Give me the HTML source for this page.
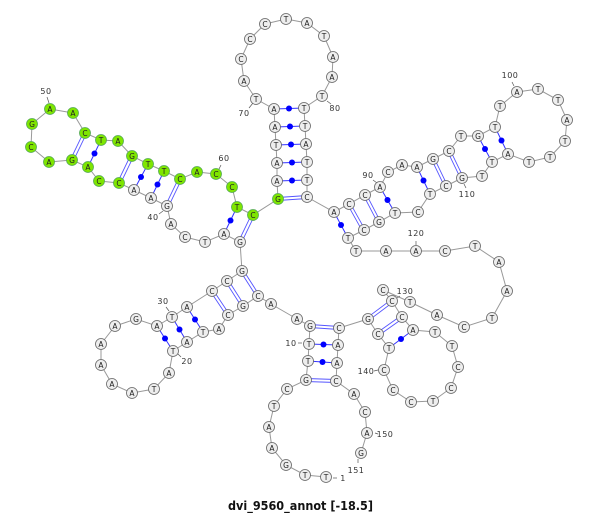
<!DOCTYPE html>
<html><head><meta charset="utf-8"><style>
html,body{margin:0;padding:0;background:#fff}
svg{display:block}
.n circle{fill:#eee;stroke:#666;stroke-width:.8}
.n circle.g{fill:#7fe600;stroke:#5a5}
.n text{font:7.5px "DejaVu Sans",sans-serif;fill:#222;text-anchor:middle}
.l text{font:8px "DejaVu Sans",sans-serif;fill:#333;text-anchor:middle;letter-spacing:.5px}
.l line{stroke:#555;stroke-width:.7}
.s line{stroke:#33f;stroke-width:1}
.d line{stroke:#55f;stroke-width:.9}
.b circle{fill:#00f}
</style></head><body>
<svg width="600" height="514" viewBox="0 0 600 514" xmlns="http://www.w3.org/2000/svg">
<polyline fill="none" stroke="#999" stroke-width="1" points="326,477 305,475 286,465 272,448 269,427 274,406 287,389 306,380 308,361 309,344 310,326 297,319 271,304 258,296 243,306 228,315 219,329 203,332 187,342 173,351 169,373 154,389 132,393 112,384 101,365 101,344 115,326 136,319 157,326 172,317 187,307 212,291 227,281 242,271 240,242 224,234 205,242 185,237 171,224 167,206 151,198 134,190 119,183 99,181 88,167 72,160 49,162 31,147 32,124 50,109 73,113 85,133 101,140 118,141 132,156 148,164 164,171 180,179 197,172 216,174 232,187 237,207 253,215 278,199 277,181 277,163 276,145 275,127 274,109 256,99 244,81 241,59 250,39 265,24 286,19 307,23 324,36 333,57 332,77 322,96 304,108 305,126 306,144 307,162 307,180 307,197 334,212 349,204 365,195 380,187 388,172 402,165 417,167 433,159 449,151 461,136 478,136 495,127 500,106 517,92 538,89 558,100 567,120 565,141 550,157 529,162 508,154 492,162 482,176 462,178 446,186 430,194 418,212 395,213 379,222 364,230 348,238 356,251 386,251 416,251 445,251 475,246 499,262 507,291 492,318 464,327 437,315 410,302 383,290 392,301 402,317 413,330 435,332 452,346 458,367 451,388 433,401 411,402 393,390 384,370 389,348 378,334 368,319 339,328 338,345 337,363 336,381 354,394 365,412 367,433 361,453"/>
<g class="s">
<line x1="308" y1="361" x2="337" y2="363"/><line x1="309" y1="344" x2="338" y2="345"/>
<line x1="203" y1="332" x2="187" y2="307"/><line x1="187" y1="342" x2="172" y2="317"/><line x1="173" y1="351" x2="157" y2="326"/>
<line x1="237" y1="207" x2="224" y2="234"/><line x1="164" y1="171" x2="151" y2="198"/><line x1="148" y1="164" x2="134" y2="190"/><line x1="101" y1="140" x2="88" y2="167"/>
<line x1="277" y1="181" x2="307" y2="180"/><line x1="277" y1="163" x2="307" y2="162"/><line x1="276" y1="145" x2="306" y2="144"/><line x1="275" y1="127" x2="305" y2="126"/><line x1="274" y1="109" x2="304" y2="108"/>
<line x1="334" y1="212" x2="348" y2="238"/><line x1="380" y1="187" x2="395" y2="213"/><line x1="417" y1="167" x2="430" y2="194"/><line x1="478" y1="136" x2="492" y2="162"/><line x1="495" y1="127" x2="508" y2="154"/>
<line x1="413" y1="330" x2="389" y2="348"/>
</g>
<g class="d">
<line x1="306" y1="378.5" x2="336" y2="379.5"/><line x1="306" y1="381.5" x2="336" y2="382.5"/>
<line x1="310" y1="324.5" x2="339" y2="326.5"/><line x1="310" y1="327.5" x2="339" y2="329.5"/>
<line x1="259.3" y1="295.2" x2="243.3" y2="270.2"/><line x1="256.7" y1="296.8" x2="240.7" y2="271.8"/>
<line x1="244.3" y1="305.2" x2="228.3" y2="280.2"/><line x1="241.7" y1="306.8" x2="225.7" y2="281.8"/>
<line x1="229.3" y1="314.2" x2="213.3" y2="290.2"/><line x1="226.7" y1="315.8" x2="210.7" y2="291.8"/>
<line x1="254.4" y1="215.7" x2="241.4" y2="242.7"/><line x1="251.6" y1="214.3" x2="238.6" y2="241.3"/>
<line x1="181.4" y1="179.7" x2="168.4" y2="206.7"/><line x1="178.6" y1="178.3" x2="165.6" y2="205.3"/>
<line x1="133.4" y1="156.7" x2="120.4" y2="183.7"/><line x1="130.6" y1="155.3" x2="117.6" y2="182.3"/>
<line x1="86.4" y1="133.7" x2="73.4" y2="160.7"/><line x1="83.6" y1="132.3" x2="70.6" y2="159.3"/>
<line x1="278" y1="197.5" x2="307" y2="195.5"/><line x1="278" y1="200.5" x2="307" y2="198.5"/>
<line x1="350.3" y1="203.3" x2="365.3" y2="230.3"/><line x1="347.7" y1="204.7" x2="362.7" y2="231.7"/>
<line x1="366.3" y1="194.3" x2="380.3" y2="221.3"/><line x1="363.7" y1="195.7" x2="377.7" y2="222.7"/>
<line x1="434.3" y1="158.3" x2="447.3" y2="185.3"/><line x1="431.7" y1="159.7" x2="444.7" y2="186.7"/>
<line x1="450.3" y1="150.3" x2="463.3" y2="177.3"/><line x1="447.7" y1="151.7" x2="460.7" y2="178.7"/>
<line x1="393" y1="302.2" x2="369" y2="320.2"/><line x1="391" y1="299.8" x2="367" y2="317.8"/>
<line x1="403" y1="318.2" x2="379" y2="335.2"/><line x1="401" y1="315.8" x2="377" y2="332.8"/>
</g>
<g class="b">
<circle cx="322.5" cy="362" r="3"/><circle cx="323.5" cy="344.5" r="3"/>
<circle cx="195" cy="319.5" r="3"/><circle cx="179.5" cy="329.5" r="3"/><circle cx="165" cy="338.5" r="3"/>
<circle cx="230.5" cy="220.5" r="3"/><circle cx="157.5" cy="184.5" r="3"/><circle cx="141" cy="177" r="3"/><circle cx="94.5" cy="153.5" r="3"/>
<circle cx="292" cy="180.5" r="3"/><circle cx="292" cy="162.5" r="3"/><circle cx="291" cy="144.5" r="3"/><circle cx="290" cy="126.5" r="3"/><circle cx="289" cy="108.5" r="3"/>
<circle cx="341" cy="225" r="3"/><circle cx="387.5" cy="200" r="3"/><circle cx="423.5" cy="180.5" r="3"/><circle cx="485" cy="149" r="3"/><circle cx="501.5" cy="140.5" r="3"/>
<circle cx="401" cy="339" r="3"/>
</g>
<g class="l">
<line x1="333" y1="478" x2="337" y2="478"/><line x1="298" y1="343" x2="302" y2="343"/><line x1="178" y1="354" x2="181" y2="357"/><line x1="166" y1="307" x2="169" y2="311"/><line x1="159" y1="214" x2="163" y2="211"/><line x1="47" y1="97" x2="49" y2="103"/><line x1="221" y1="165" x2="219" y2="169"/><line x1="249" y1="108" x2="253" y2="103"/><line x1="327" y1="101" x2="331" y2="104"/><line x1="373" y1="180" x2="377" y2="183"/><line x1="512" y1="82" x2="514" y2="86"/><line x1="464" y1="184" x2="466" y2="188"/><line x1="416" y1="241" x2="416" y2="245"/><line x1="397" y1="298" x2="400" y2="296"/><line x1="374" y1="371" x2="378" y2="370"/><line x1="375" y1="433" x2="378" y2="434"/><line x1="358" y1="463" x2="358" y2="459"/>
<text x="343" y="481">1</text><text x="291" y="346">10</text><text x="187" y="364">20</text><text x="163" y="304">30</text><text x="153" y="220">40</text><text x="46" y="94">50</text><text x="224" y="161">60</text><text x="244" y="116">70</text><text x="335" y="111">80</text><text x="368" y="178">90</text><text x="510" y="78">100</text><text x="467" y="197">110</text><text x="416" y="236">120</text><text x="405" y="294">130</text><text x="366" y="374">140</text><text x="385" y="437">150</text><text x="356" y="473">151</text>
</g>
<g class="n">
<circle cx="326" cy="477" r="5.5"/><text x="326" y="480">T</text>
<circle cx="305" cy="475" r="5.5"/><text x="305" y="478">T</text>
<circle cx="286" cy="465" r="5.5"/><text x="286" y="468">G</text>
<circle cx="272" cy="448" r="5.5"/><text x="272" y="451">A</text>
<circle cx="269" cy="427" r="5.5"/><text x="269" y="430">A</text>
<circle cx="274" cy="406" r="5.5"/><text x="274" y="409">T</text>
<circle cx="287" cy="389" r="5.5"/><text x="287" y="392">C</text>
<circle cx="306" cy="380" r="5.5"/><text x="306" y="383">G</text>
<circle cx="308" cy="361" r="5.5"/><text x="308" y="364">T</text>
<circle cx="309" cy="344" r="5.5"/><text x="309" y="347">T</text>
<circle cx="310" cy="326" r="5.5"/><text x="310" y="329">G</text>
<circle cx="297" cy="319" r="5.5"/><text x="297" y="322">A</text>
<circle cx="271" cy="304" r="5.5"/><text x="271" y="307">A</text>
<circle cx="258" cy="296" r="5.5"/><text x="258" y="299">C</text>
<circle cx="243" cy="306" r="5.5"/><text x="243" y="309">G</text>
<circle cx="228" cy="315" r="5.5"/><text x="228" y="318">C</text>
<circle cx="219" cy="329" r="5.5"/><text x="219" y="332">A</text>
<circle cx="203" cy="332" r="5.5"/><text x="203" y="335">T</text>
<circle cx="187" cy="342" r="5.5"/><text x="187" y="345">A</text>
<circle cx="173" cy="351" r="5.5"/><text x="173" y="354">T</text>
<circle cx="169" cy="373" r="5.5"/><text x="169" y="376">A</text>
<circle cx="154" cy="389" r="5.5"/><text x="154" y="392">T</text>
<circle cx="132" cy="393" r="5.5"/><text x="132" y="396">A</text>
<circle cx="112" cy="384" r="5.5"/><text x="112" y="387">A</text>
<circle cx="101" cy="365" r="5.5"/><text x="101" y="368">A</text>
<circle cx="101" cy="344" r="5.5"/><text x="101" y="347">A</text>
<circle cx="115" cy="326" r="5.5"/><text x="115" y="329">A</text>
<circle cx="136" cy="319" r="5.5"/><text x="136" y="322">G</text>
<circle cx="157" cy="326" r="5.5"/><text x="157" y="329">A</text>
<circle cx="172" cy="317" r="5.5"/><text x="172" y="320">T</text>
<circle cx="187" cy="307" r="5.5"/><text x="187" y="310">A</text>
<circle cx="212" cy="291" r="5.5"/><text x="212" y="294">C</text>
<circle cx="227" cy="281" r="5.5"/><text x="227" y="284">C</text>
<circle cx="242" cy="271" r="5.5"/><text x="242" y="274">G</text>
<circle cx="240" cy="242" r="5.5"/><text x="240" y="245">G</text>
<circle cx="224" cy="234" r="5.5"/><text x="224" y="237">A</text>
<circle cx="205" cy="242" r="5.5"/><text x="205" y="245">T</text>
<circle cx="185" cy="237" r="5.5"/><text x="185" y="240">C</text>
<circle cx="171" cy="224" r="5.5"/><text x="171" y="227">A</text>
<circle cx="167" cy="206" r="5.5"/><text x="167" y="209">G</text>
<circle cx="151" cy="198" r="5.5"/><text x="151" y="201">A</text>
<circle cx="134" cy="190" r="5.5"/><text x="134" y="193">A</text>
<circle class="g" cx="119" cy="183" r="5.5"/><text x="119" y="186">C</text>
<circle class="g" cx="99" cy="181" r="5.5"/><text x="99" y="184">C</text>
<circle class="g" cx="88" cy="167" r="5.5"/><text x="88" y="170">A</text>
<circle class="g" cx="72" cy="160" r="5.5"/><text x="72" y="163">G</text>
<circle class="g" cx="49" cy="162" r="5.5"/><text x="49" y="165">A</text>
<circle class="g" cx="31" cy="147" r="5.5"/><text x="31" y="150">C</text>
<circle class="g" cx="32" cy="124" r="5.5"/><text x="32" y="127">G</text>
<circle class="g" cx="50" cy="109" r="5.5"/><text x="50" y="112">A</text>
<circle class="g" cx="73" cy="113" r="5.5"/><text x="73" y="116">A</text>
<circle class="g" cx="85" cy="133" r="5.5"/><text x="85" y="136">C</text>
<circle class="g" cx="101" cy="140" r="5.5"/><text x="101" y="143">T</text>
<circle class="g" cx="118" cy="141" r="5.5"/><text x="118" y="144">A</text>
<circle class="g" cx="132" cy="156" r="5.5"/><text x="132" y="159">G</text>
<circle class="g" cx="148" cy="164" r="5.5"/><text x="148" y="167">T</text>
<circle class="g" cx="164" cy="171" r="5.5"/><text x="164" y="174">T</text>
<circle class="g" cx="180" cy="179" r="5.5"/><text x="180" y="182">C</text>
<circle class="g" cx="197" cy="172" r="5.5"/><text x="197" y="175">A</text>
<circle class="g" cx="216" cy="174" r="5.5"/><text x="216" y="177">C</text>
<circle class="g" cx="232" cy="187" r="5.5"/><text x="232" y="190">C</text>
<circle class="g" cx="237" cy="207" r="5.5"/><text x="237" y="210">T</text>
<circle class="g" cx="253" cy="215" r="5.5"/><text x="253" y="218">C</text>
<circle class="g" cx="278" cy="199" r="5.5"/><text x="278" y="202">G</text>
<circle cx="277" cy="181" r="5.5"/><text x="277" y="184">A</text>
<circle cx="277" cy="163" r="5.5"/><text x="277" y="166">A</text>
<circle cx="276" cy="145" r="5.5"/><text x="276" y="148">T</text>
<circle cx="275" cy="127" r="5.5"/><text x="275" y="130">A</text>
<circle cx="274" cy="109" r="5.5"/><text x="274" y="112">A</text>
<circle cx="256" cy="99" r="5.5"/><text x="256" y="102">T</text>
<circle cx="244" cy="81" r="5.5"/><text x="244" y="84">A</text>
<circle cx="241" cy="59" r="5.5"/><text x="241" y="62">C</text>
<circle cx="250" cy="39" r="5.5"/><text x="250" y="42">C</text>
<circle cx="265" cy="24" r="5.5"/><text x="265" y="27">C</text>
<circle cx="286" cy="19" r="5.5"/><text x="286" y="22">T</text>
<circle cx="307" cy="23" r="5.5"/><text x="307" y="26">A</text>
<circle cx="324" cy="36" r="5.5"/><text x="324" y="39">T</text>
<circle cx="333" cy="57" r="5.5"/><text x="333" y="60">A</text>
<circle cx="332" cy="77" r="5.5"/><text x="332" y="80">A</text>
<circle cx="322" cy="96" r="5.5"/><text x="322" y="99">T</text>
<circle cx="304" cy="108" r="5.5"/><text x="304" y="111">T</text>
<circle cx="305" cy="126" r="5.5"/><text x="305" y="129">T</text>
<circle cx="306" cy="144" r="5.5"/><text x="306" y="147">A</text>
<circle cx="307" cy="162" r="5.5"/><text x="307" y="165">T</text>
<circle cx="307" cy="180" r="5.5"/><text x="307" y="183">T</text>
<circle cx="307" cy="197" r="5.5"/><text x="307" y="200">C</text>
<circle cx="334" cy="212" r="5.5"/><text x="334" y="215">A</text>
<circle cx="349" cy="204" r="5.5"/><text x="349" y="207">C</text>
<circle cx="365" cy="195" r="5.5"/><text x="365" y="198">C</text>
<circle cx="380" cy="187" r="5.5"/><text x="380" y="190">A</text>
<circle cx="388" cy="172" r="5.5"/><text x="388" y="175">C</text>
<circle cx="402" cy="165" r="5.5"/><text x="402" y="168">A</text>
<circle cx="417" cy="167" r="5.5"/><text x="417" y="170">A</text>
<circle cx="433" cy="159" r="5.5"/><text x="433" y="162">G</text>
<circle cx="449" cy="151" r="5.5"/><text x="449" y="154">C</text>
<circle cx="461" cy="136" r="5.5"/><text x="461" y="139">T</text>
<circle cx="478" cy="136" r="5.5"/><text x="478" y="139">G</text>
<circle cx="495" cy="127" r="5.5"/><text x="495" y="130">T</text>
<circle cx="500" cy="106" r="5.5"/><text x="500" y="109">T</text>
<circle cx="517" cy="92" r="5.5"/><text x="517" y="95">A</text>
<circle cx="538" cy="89" r="5.5"/><text x="538" y="92">T</text>
<circle cx="558" cy="100" r="5.5"/><text x="558" y="103">T</text>
<circle cx="567" cy="120" r="5.5"/><text x="567" y="123">A</text>
<circle cx="565" cy="141" r="5.5"/><text x="565" y="144">T</text>
<circle cx="550" cy="157" r="5.5"/><text x="550" y="160">T</text>
<circle cx="529" cy="162" r="5.5"/><text x="529" y="165">T</text>
<circle cx="508" cy="154" r="5.5"/><text x="508" y="157">A</text>
<circle cx="492" cy="162" r="5.5"/><text x="492" y="165">T</text>
<circle cx="482" cy="176" r="5.5"/><text x="482" y="179">T</text>
<circle cx="462" cy="178" r="5.5"/><text x="462" y="181">G</text>
<circle cx="446" cy="186" r="5.5"/><text x="446" y="189">C</text>
<circle cx="430" cy="194" r="5.5"/><text x="430" y="197">T</text>
<circle cx="418" cy="212" r="5.5"/><text x="418" y="215">C</text>
<circle cx="395" cy="213" r="5.5"/><text x="395" y="216">T</text>
<circle cx="379" cy="222" r="5.5"/><text x="379" y="225">G</text>
<circle cx="364" cy="230" r="5.5"/><text x="364" y="233">C</text>
<circle cx="348" cy="238" r="5.5"/><text x="348" y="241">T</text>
<circle cx="356" cy="251" r="5.5"/><text x="356" y="254">T</text>
<circle cx="386" cy="251" r="5.5"/><text x="386" y="254">A</text>
<circle cx="416" cy="251" r="5.5"/><text x="416" y="254">A</text>
<circle cx="445" cy="251" r="5.5"/><text x="445" y="254">C</text>
<circle cx="475" cy="246" r="5.5"/><text x="475" y="249">T</text>
<circle cx="499" cy="262" r="5.5"/><text x="499" y="265">A</text>
<circle cx="507" cy="291" r="5.5"/><text x="507" y="294">A</text>
<circle cx="492" cy="318" r="5.5"/><text x="492" y="321">T</text>
<circle cx="464" cy="327" r="5.5"/><text x="464" y="330">C</text>
<circle cx="437" cy="315" r="5.5"/><text x="437" y="318">A</text>
<circle cx="410" cy="302" r="5.5"/><text x="410" y="305">T</text>
<circle cx="383" cy="290" r="5.5"/><text x="383" y="293">C</text>
<circle cx="392" cy="301" r="5.5"/><text x="392" y="304">C</text>
<circle cx="402" cy="317" r="5.5"/><text x="402" y="320">C</text>
<circle cx="413" cy="330" r="5.5"/><text x="413" y="333">A</text>
<circle cx="435" cy="332" r="5.5"/><text x="435" y="335">T</text>
<circle cx="452" cy="346" r="5.5"/><text x="452" y="349">T</text>
<circle cx="458" cy="367" r="5.5"/><text x="458" y="370">C</text>
<circle cx="451" cy="388" r="5.5"/><text x="451" y="391">C</text>
<circle cx="433" cy="401" r="5.5"/><text x="433" y="404">T</text>
<circle cx="411" cy="402" r="5.5"/><text x="411" y="405">C</text>
<circle cx="393" cy="390" r="5.5"/><text x="393" y="393">C</text>
<circle cx="384" cy="370" r="5.5"/><text x="384" y="373">C</text>
<circle cx="389" cy="348" r="5.5"/><text x="389" y="351">T</text>
<circle cx="378" cy="334" r="5.5"/><text x="378" y="337">C</text>
<circle cx="368" cy="319" r="5.5"/><text x="368" y="322">G</text>
<circle cx="339" cy="328" r="5.5"/><text x="339" y="331">C</text>
<circle cx="338" cy="345" r="5.5"/><text x="338" y="348">A</text>
<circle cx="337" cy="363" r="5.5"/><text x="337" y="366">A</text>
<circle cx="336" cy="381" r="5.5"/><text x="336" y="384">C</text>
<circle cx="354" cy="394" r="5.5"/><text x="354" y="397">A</text>
<circle cx="365" cy="412" r="5.5"/><text x="365" y="415">C</text>
<circle cx="367" cy="433" r="5.5"/><text x="367" y="436">A</text>
<circle cx="361" cy="453" r="5.5"/><text x="361" y="456">G</text>
</g>
<text x="228" y="510" font-family="'DejaVu Sans',sans-serif" font-weight="bold" font-size="12" fill="#111" textLength="145" lengthAdjust="spacingAndGlyphs">dvi_9560_annot [-18.5]</text>
</svg>
</body></html>
